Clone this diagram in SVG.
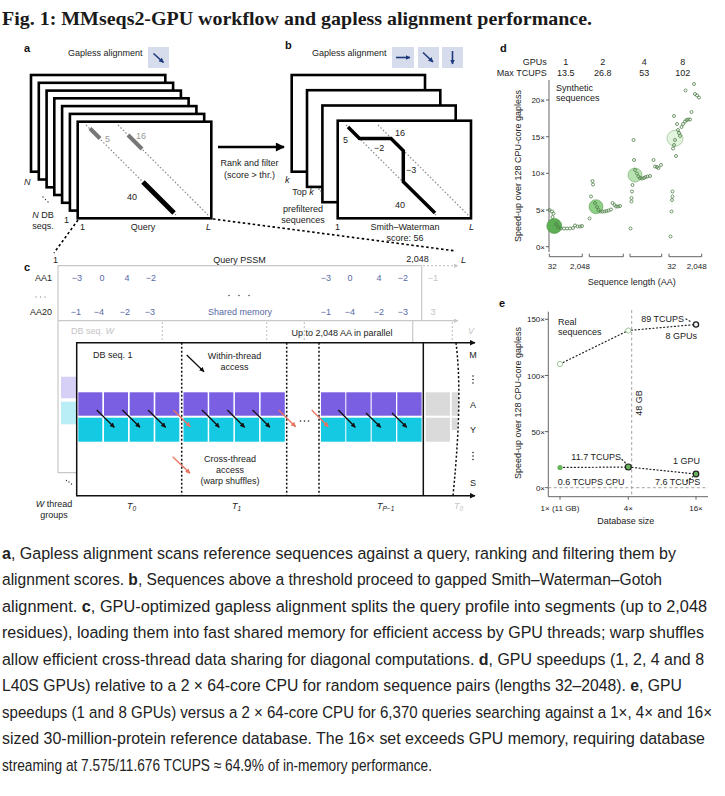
<svg xmlns="http://www.w3.org/2000/svg" width="725" height="796" viewBox="0 0 725 796">
<defs>
<style>
.t{font-family:"Liberation Sans",Arial,sans-serif;font-size:9px;fill:#222}
.s{font-size:8px}
.gr{fill:#999}
.lg{fill:#c4c4c4}
.num{fill:#5a68a6}
.it{font-style:italic}
.pl{font-family:"Liberation Sans",Arial,sans-serif;font-size:11px;font-weight:bold;fill:#111}
.mid{text-anchor:middle}
.end{text-anchor:end}
.cap{font-family:"Liberation Sans",Arial,sans-serif;font-size:17px;fill:#222}
.b{font-weight:bold}
.lay{fill:#fff;stroke:#000;stroke-width:2.6}
.dot{stroke:#8a8a8a;stroke-width:1.2;stroke-dasharray:1.5 2;fill:none}
.icon{fill:#d6dcec}
.na{stroke:#1e3a7c;stroke-width:1.6;fill:none}
.pc{fill:#7a5fe2}
.cc{fill:#16c9e2}
.ga{fill:#dadada}
.ba{stroke:#111;stroke-width:1.3;fill:none}
.ra{stroke:#e8735f;stroke-width:1.3;fill:none}
.vd{stroke:#111;stroke-width:1.5;stroke-dasharray:2 2;fill:none}
.gl{stroke:#c8c8c8;stroke-width:1.2;fill:none}
.gld{stroke:#c8c8c8;stroke-width:1.2;stroke-dasharray:2 2;fill:none}
.ax{stroke:#555;stroke-width:0.9;fill:none}
.sp{fill:none;stroke:#4f7f48;stroke-width:0.8}
.ed{stroke:#222;stroke-width:1.2;stroke-dasharray:1 2.6;stroke-linecap:round;fill:none}
</style>
<marker id="mb" viewBox="0 0 10 10" refX="9" refY="5" markerWidth="5" markerHeight="5" markerUnits="userSpaceOnUse" orient="auto"><path d="M0,0 L10,5 L0,10 z" fill="#111"/></marker>
<marker id="mr" viewBox="0 0 10 10" refX="9" refY="5" markerWidth="5" markerHeight="5" markerUnits="userSpaceOnUse" orient="auto"><path d="M0,0 L10,5 L0,10 z" fill="#e8735f"/></marker>
<marker id="mn" viewBox="0 0 10 10" refX="9" refY="5" markerWidth="5" markerHeight="5" markerUnits="userSpaceOnUse" orient="auto"><path d="M0,0 L10,5 L0,10 z" fill="#1e3a7c"/></marker>
<marker id="mk" viewBox="0 0 10 10" refX="9" refY="5" markerWidth="10" markerHeight="9" markerUnits="userSpaceOnUse" orient="auto"><path d="M0,0 L10,5 L0,10 z" fill="#000"/></marker>
<marker id="mg" viewBox="0 0 10 10" refX="9" refY="5" markerWidth="5" markerHeight="5" markerUnits="userSpaceOnUse" orient="auto"><path d="M0,0 L10,5 L0,10 z" fill="#c8c8c8"/></marker>
<marker id="mx" viewBox="0 0 10 10" refX="9" refY="5" markerWidth="6" markerHeight="6" markerUnits="userSpaceOnUse" orient="auto"><path d="M0,0 L10,5 L0,10 z" fill="#111"/></marker>
</defs>
<rect width="725" height="796" fill="#fff"/>

<text x="2" y="25" font-family="Liberation Serif,serif" font-weight="bold" font-size="19" fill="#1a1a1a" textLength="590" lengthAdjust="spacingAndGlyphs">Fig. 1: MMseqs2-GPU workflow and gapless alignment performance.</text>

<!-- Panel a -->
<g id="panel-a">
<text class="pl" x="24" y="52">a</text>
<text class="t" x="68" y="56">Gapless alignment</text>
<rect class="icon" x="148" y="47" width="21" height="21"/>
<line class="na" x1="153.5" y1="53.5" x2="163.5" y2="62.5" marker-end="url(#mn)"/>
<rect class="lay" x="31" y="75" width="134.3" height="96.7"/>
<rect class="lay" x="38.8" y="82.8" width="134.3" height="96.7"/>
<rect class="lay" x="46.6" y="90.6" width="134.3" height="96.7"/>
<rect class="lay" x="54.3" y="98.3" width="134.3" height="96.7"/>
<rect class="lay" x="62.1" y="106.1" width="134.3" height="96.7"/>
<rect class="lay" x="69.9" y="113.9" width="134.3" height="96.7"/>
<rect class="lay" x="77.7" y="121.7" width="133.6" height="96.6"/>
<line class="dot" x1="86" y1="125" x2="176" y2="215"/>
<line class="dot" x1="118" y1="125" x2="209" y2="216"/>
<line x1="90" y1="128.5" x2="100" y2="138.5" stroke="#777" stroke-width="4"/>
<line x1="128" y1="135" x2="142" y2="149" stroke="#777" stroke-width="4"/>
<line x1="143" y1="182" x2="174" y2="213" stroke="#000" stroke-width="5"/>
<text class="t gr" x="105" y="142">5</text>
<text class="t gr" x="136" y="139">16</text>
<text class="t" x="127" y="200" font-size="10">40</text>
<text class="t it" x="24" y="185">N</text>
<circle cx="43" cy="197" r="0.7" fill="#333"/><circle cx="45.5" cy="199.5" r="0.7" fill="#333"/><circle cx="48" cy="202" r="0.7" fill="#333"/>
<text class="t mid" x="43" y="218"><tspan class="it">N</tspan> DB</text>
<text class="t mid" x="43" y="229">seqs.</text>
<text class="t" x="64" y="223">1</text>
<text class="t" x="80" y="230">1</text>
<text class="t mid" x="143" y="230">Query</text>
<text class="t it" x="206" y="230">L</text>
</g>

<!-- Connectors -->
<g id="connectors">
<line x1="218" y1="147" x2="284" y2="147" stroke="#000" stroke-width="2.5" marker-end="url(#mk)"/>
<line x1="78" y1="220" x2="54" y2="253" stroke="#000" stroke-width="1.6" stroke-dasharray="2.5 2.5"/>
<line x1="213" y1="219" x2="456" y2="251" stroke="#000" stroke-width="1.6" stroke-dasharray="2.5 2.5"/>
</g>
<g id="rank-label">
<text class="t mid" x="249.5" y="166">Rank and filter</text>
<text class="t mid" x="249.5" y="178">(score &gt; thr.)</text>
</g>

<!-- Panel b -->
<g id="panel-b">
<text class="pl" x="285" y="49">b</text>
<text class="t" x="312" y="56">Gapless alignment</text>
<rect class="icon" x="392" y="47" width="22" height="21"/>
<rect class="icon" x="418" y="47" width="21" height="21"/>
<rect class="icon" x="442" y="47" width="21" height="21"/>
<line class="na" x1="396" y1="57.5" x2="410" y2="57.5" marker-end="url(#mn)"/>
<line class="na" x1="423" y1="52.5" x2="433" y2="62" marker-end="url(#mn)"/>
<line class="na" x1="452.5" y1="51" x2="452.5" y2="64" marker-end="url(#mn)"/>
<rect class="lay" x="291.7" y="75" width="133.3" height="96.7"/>
<rect class="lay" x="307" y="90.2" width="133.3" height="96.7"/>
<rect class="lay" x="322.4" y="105.5" width="133.3" height="96.7"/>
<rect class="lay" x="337.7" y="120.7" width="133.3" height="97.6"/>
<line class="dot" x1="346" y1="125" x2="436" y2="215"/>
<line class="dot" x1="378" y1="125" x2="469" y2="216"/>
<path d="M348,127 L359.5,138.5 L391,138.5 L403.3,150.8 L403.3,181.7 L435,213" fill="none" stroke="#000" stroke-width="3.5"/>
<text class="t" x="343" y="143">5</text>
<text class="t" x="395" y="136">16</text>
<text class="t" x="374" y="151">−2</text>
<text class="t" x="406" y="173">−3</text>
<text class="t" x="395" y="208">40</text>
<text class="t it" x="285" y="183">k</text>
<text class="t mid" x="303" y="195">Top <tspan class="it">k</tspan></text>
<circle cx="319" cy="189" r="0.7" fill="#333"/><circle cx="321" cy="191" r="0.7" fill="#333"/><circle cx="323" cy="193" r="0.7" fill="#333"/>
<text class="t mid" x="303" y="212">prefiltered</text>
<text class="t mid" x="303" y="223">sequences</text>
<text class="t" x="335" y="230">1</text>
<text class="t mid" x="405" y="230">Smith–Waterman</text>
<text class="t mid" x="405" y="241">score: 56</text>
<text class="t it" x="469" y="230">L</text>
</g>

<!-- Panel c -->
<g id="panel-c">
<text class="pl" x="24" y="271">c</text>
<text class="t" x="53" y="263">1</text>
<text class="t mid" x="239.5" y="263">Query PSSM</text>
<text class="t mid" x="417.5" y="262">2,048</text>
<text class="t it" x="461" y="263">L</text>
<polyline class="gl" points="421.7,265.7 58,265.7 58,472.7 77,472.7"/>
<line class="gl" x1="421.7" y1="265.7" x2="421.7" y2="320.7"/>
<line class="gld" x1="423" y1="265.7" x2="458" y2="265.7" marker-end="url(#mg)"/>
<line class="gl" x1="58" y1="320.7" x2="458" y2="320.7" marker-end="url(#mg)"/>
<text class="t end" x="52" y="281">AA1</text>
<circle cx="36" cy="297" r="0.7" fill="#999"/><circle cx="40.5" cy="297" r="0.7" fill="#999"/><circle cx="45" cy="297" r="0.7" fill="#999"/>
<text class="t end" x="52" y="315">AA20</text>
<g class="t num mid">
<text x="77" y="281">−3</text><text x="102" y="281">0</text><text x="127" y="281">4</text><text x="151" y="281">−2</text>
<text x="76" y="315">−1</text><text x="99" y="315">−4</text><text x="125" y="315">−2</text><text x="150" y="315">−3</text>
<text x="326" y="281">−3</text><text x="350" y="281">0</text><text x="379" y="281">4</text><text x="403" y="281">−2</text>
<text x="326" y="315">−1</text><text x="350" y="315">−4</text><text x="379" y="315">−2</text><text x="403" y="315">−3</text>
<text x="240" y="315">Shared memory</text>
</g>
<text class="t lg mid" x="433" y="281">−1</text>
<text class="t lg mid" x="433" y="315">3</text>
<circle cx="229" cy="295.5" r="0.8" fill="#555"/><circle cx="239" cy="295.5" r="0.8" fill="#555"/><circle cx="249" cy="295.5" r="0.8" fill="#555"/>
<text class="t lg" x="71" y="334">DB seq. <tspan class="it">W</tspan></text>
<line class="gld" x1="162.3" y1="322" x2="162.3" y2="341"/>
<line class="gld" x1="266.7" y1="322" x2="266.7" y2="341"/>
<line class="gld" x1="304.3" y1="322" x2="304.3" y2="341"/>
<line class="gl" x1="412.7" y1="321" x2="412.7" y2="342"/>
<line class="gld" x1="452.3" y1="322" x2="452.3" y2="341"/>
<text class="t mid" x="342" y="336">Up to 2,048 AA in parallel</text>
<text class="t lg it" x="468" y="334">V</text>
<rect x="61" y="376.7" width="16" height="21.6" fill="#d6cff6"/>
<rect x="61" y="401.7" width="16" height="22.6" fill="#b9eef6"/>
<line x1="76.7" y1="342.7" x2="475" y2="342.7" stroke="#111" stroke-width="1.5" marker-end="url(#mx)"/>
<line x1="76.7" y1="495.7" x2="475" y2="495.7" stroke="#111" stroke-width="1.5" marker-end="url(#mx)"/>
<line x1="76.7" y1="342" x2="76.7" y2="496.4" stroke="#111" stroke-width="1.5"/>
<line x1="423.3" y1="342.7" x2="423.3" y2="495.7" stroke="#111" stroke-width="1.5"/>
<text class="t" x="93" y="358">DB seq. 1</text>
<g id="cells">
<rect class="pc" x="78.3" y="392.3" width="24" height="23.4"/><rect class="pc" x="104" y="392.3" width="24" height="23.4"/><rect class="pc" x="129.7" y="392.3" width="24" height="23.4"/><rect class="pc" x="155.3" y="392.3" width="24" height="23.4"/>
<rect class="cc" x="78.3" y="417.7" width="24" height="24"/><rect class="cc" x="104" y="417.7" width="24" height="24"/><rect class="cc" x="129.7" y="417.7" width="24" height="24"/><rect class="cc" x="155.3" y="417.7" width="24" height="24"/>
<rect class="pc" x="183.5" y="392.3" width="24.2" height="23.4"/><rect class="pc" x="209.2" y="392.3" width="24.2" height="23.4"/><rect class="pc" x="234.9" y="392.3" width="24.2" height="23.4"/><rect class="pc" x="260.6" y="392.3" width="24.2" height="23.4"/>
<rect class="cc" x="183.5" y="417.7" width="24.2" height="24"/><rect class="cc" x="209.2" y="417.7" width="24.2" height="24"/><rect class="cc" x="234.9" y="417.7" width="24.2" height="24"/><rect class="cc" x="260.6" y="417.7" width="24.2" height="24"/>
<rect class="pc" x="321" y="392.3" width="24.3" height="23.4"/><rect class="pc" x="346.3" y="392.3" width="24.3" height="23.4"/><rect class="pc" x="371.7" y="392.3" width="24.3" height="23.4"/><rect class="pc" x="397.3" y="392.3" width="24.3" height="23.4"/>
<rect class="cc" x="321" y="417.7" width="24.3" height="24"/><rect class="cc" x="346.3" y="417.7" width="24.3" height="24"/><rect class="cc" x="371.7" y="417.7" width="24.3" height="24"/><rect class="cc" x="397.3" y="417.7" width="24.3" height="24"/>
<rect class="ga" x="425.7" y="392.3" width="24.3" height="23.4"/><rect class="ga" x="425.7" y="417.7" width="24.3" height="24"/>
<path class="ga" d="M451.7,392.3 L458.6,392.3 L458.2,415.7 L451.7,415.7 z"/>
<path class="ga" d="M451.7,417.7 L457.6,417.7 L456.9,430 L451.7,430 z"/>
</g>
<path d="M456,342.7 C460,375 460.5,420 453,495.7" fill="none" stroke="#111" stroke-width="1.5" stroke-dasharray="2.2 2"/>
<line class="vd" x1="181.7" y1="342.7" x2="181.7" y2="495.7"/>
<line class="vd" x1="286.7" y1="342.7" x2="286.7" y2="495.7"/>
<line class="vd" x1="319" y1="342.7" x2="319" y2="495.7"/>
<g id="thread-arrows">
<line class="ba" x1="96.7" y1="410" x2="114.3" y2="427.3" marker-end="url(#mb)"/>
<line class="ba" x1="122.4" y1="410" x2="140" y2="427.3" marker-end="url(#mb)"/>
<line class="ba" x1="148" y1="410" x2="165.6" y2="427.3" marker-end="url(#mb)"/>
<line class="ra" x1="173.3" y1="410" x2="190.3" y2="426.7" marker-end="url(#mr)"/>
<line class="ba" x1="202" y1="410" x2="219.3" y2="427.3" marker-end="url(#mb)"/>
<line class="ba" x1="227.3" y1="410" x2="244.6" y2="427.3" marker-end="url(#mb)"/>
<line class="ba" x1="252.6" y1="410" x2="269.9" y2="427.3" marker-end="url(#mb)"/>
<line class="ra" x1="278.6" y1="410" x2="295.6" y2="426.7" marker-end="url(#mr)"/>
<line class="ra" x1="311.7" y1="410" x2="328.3" y2="426.7" marker-end="url(#mr)"/>
<line class="ba" x1="338.3" y1="410" x2="355.3" y2="427.3" marker-end="url(#mb)"/>
<line class="ba" x1="366" y1="413" x2="380.7" y2="427.3" marker-end="url(#mb)"/>
<line class="ba" x1="392" y1="413" x2="406.7" y2="427.3" marker-end="url(#mb)"/>
</g>
<circle cx="300.5" cy="421" r="0.8" fill="#222"/><circle cx="304.5" cy="421" r="0.8" fill="#222"/><circle cx="308.5" cy="421" r="0.8" fill="#222"/>
<line class="ba" x1="186.7" y1="355" x2="204" y2="371.7" marker-end="url(#mb)"/>
<text class="t mid" x="234.5" y="359">Within-thread</text>
<text class="t mid" x="234.5" y="370">access</text>
<line class="ra" x1="172.7" y1="456.7" x2="190" y2="473.3" marker-end="url(#mr)"/>
<text class="t mid" x="230" y="462">Cross-thread</text>
<text class="t mid" x="230" y="473">access</text>
<text class="t mid" x="230" y="484">(warp shuffles)</text>
<text class="t mid" x="473" y="358">M</text>
<circle cx="473" cy="376" r="0.8" fill="#222"/><circle cx="473" cy="379.5" r="0.8" fill="#222"/><circle cx="473" cy="383" r="0.8" fill="#222"/>
<text class="t mid" x="473" y="408">A</text>
<text class="t mid" x="473" y="433">Y</text>
<circle cx="473" cy="452.5" r="0.8" fill="#222"/><circle cx="473" cy="456" r="0.8" fill="#222"/><circle cx="473" cy="459.5" r="0.8" fill="#222"/>
<text class="t mid" x="473" y="486">S</text>
<circle cx="66.5" cy="480.5" r="0.7" fill="#333"/><circle cx="69" cy="482" r="0.7" fill="#333"/><circle cx="71.5" cy="484" r="0.7" fill="#333"/>
<text class="t mid" x="54" y="507"><tspan class="it">W</tspan> thread</text>
<text class="t mid" x="54" y="518">groups</text>
<text class="t it" x="127" y="509">T<tspan font-size="6.5" dy="2">0</tspan></text>
<text class="t it" x="232" y="509">T<tspan font-size="6.5" dy="2">1</tspan></text>
<text class="t it" x="377" y="509">T<tspan font-size="6.5" dy="2">P−1</tspan></text>
<text class="t it lg" x="454" y="509">T<tspan font-size="6.5" dy="2">0</tspan></text>
</g>

<!-- Panel d -->
<g id="panel-d">
<text class="pl" x="500" y="52">d</text>
<text class="t end" x="546.7" y="65">GPUs</text>
<text class="t end" x="546.7" y="76">Max TCUPS</text>
<g class="t mid">
<text x="565.7" y="65">1</text><text x="602.7" y="65">2</text><text x="644.3" y="65">4</text><text x="682.7" y="65">8</text>
<text x="565.7" y="76">13.5</text><text x="602.7" y="76">26.8</text><text x="644.3" y="76">53</text><text x="682.7" y="76">102</text>
</g>
<line class="ax" x1="549" y1="80" x2="549" y2="252"/>
<g class="ax">
<line x1="546" y1="100" x2="549" y2="100"/><line x1="546" y1="136.7" x2="549" y2="136.7"/><line x1="546" y1="173.3" x2="549" y2="173.3"/><line x1="546" y1="210" x2="549" y2="210"/><line x1="546" y1="246.7" x2="549" y2="246.7"/>
<polyline points="549.3,253.7 549.3,256.7 582.3,256.7 582.3,253.7"/>
<polyline points="589.3,253.7 589.3,256.7 623.3,256.7 623.3,253.7"/>
<polyline points="630,253.7 630,256.7 661.7,256.7 661.7,253.7"/>
<polyline points="669,253.7 669,256.7 701.7,256.7 701.7,253.7"/>
</g>
<g class="t s end">
<text x="545" y="103">20×</text><text x="545" y="139.7">15×</text><text x="545" y="176.3">10×</text><text x="545" y="213">5×</text><text x="545" y="249.7">0×</text>
</g>
<g class="t s mid">
<text x="552.3" y="269">32</text><text x="580" y="269">2,048</text><text x="671.7" y="269">32</text><text x="696.7" y="269">2,048</text>
</g>
<text class="t mid" x="631.7" y="285">Sequence length (AA)</text>
<text class="t mid" transform="translate(521,166) rotate(-90)">Speed-up over 128 CPU-core gapless</text>
<text class="t" x="556" y="90.5">Synthetic</text>
<text class="t" x="556" y="100.5">sequences</text>
<circle cx="554.3" cy="226" r="7.5" fill="#5daf55" stroke="#4a8f43" stroke-width="0.6"/>
<circle cx="596" cy="206.7" r="7" fill="#8fd087" stroke="#5f9f57" stroke-width="0.6"/>
<circle cx="635" cy="175" r="7" fill="#b9e2b2" stroke="#6fa868" stroke-width="0.6"/>
<circle cx="675" cy="138.3" r="8" fill="#e2f3de" stroke="#8ab884" stroke-width="0.6"/>
<g class="sp">
<circle cx="549.5" cy="210" r="1.5"/><circle cx="552" cy="211.5" r="1.5"/><circle cx="553.5" cy="213.5" r="1.5"/><circle cx="552.5" cy="217" r="1.5"/><circle cx="556" cy="224" r="1.5"/><circle cx="558" cy="227" r="1.5"/><circle cx="561" cy="228.5" r="1.5"/><circle cx="564" cy="228.5" r="1.5"/><circle cx="567" cy="228.5" r="1.5"/><circle cx="570" cy="228.5" r="1.5"/><circle cx="573" cy="228" r="1.5"/><circle cx="575" cy="225.5" r="1.5"/><circle cx="577.5" cy="226.5" r="1.5"/><circle cx="580" cy="226.5" r="1.5"/><circle cx="582" cy="226" r="1.5"/>
<circle cx="589.5" cy="218.5" r="1.5"/><circle cx="591" cy="196.5" r="1.5"/><circle cx="592.5" cy="181" r="1.5"/><circle cx="593" cy="184.5" r="1.5"/><circle cx="595" cy="203" r="1.5"/><circle cx="597" cy="207" r="1.5"/><circle cx="598.5" cy="210" r="1.5"/><circle cx="600.5" cy="211.5" r="1.5"/><circle cx="602.5" cy="211.5" r="1.5"/><circle cx="604.5" cy="211.5" r="1.5"/><circle cx="606.5" cy="211" r="1.5"/><circle cx="608.5" cy="210.5" r="1.5"/><circle cx="611" cy="209.5" r="1.5"/><circle cx="612.5" cy="203" r="1.5"/><circle cx="614.5" cy="205" r="1.5"/><circle cx="616" cy="206.5" r="1.5"/><circle cx="618" cy="206.5" r="1.5"/><circle cx="620" cy="206" r="1.5"/>
<circle cx="630.5" cy="228.5" r="1.5"/><circle cx="631.5" cy="201.5" r="1.5"/><circle cx="631.5" cy="198" r="1.5"/><circle cx="632" cy="191.5" r="1.5"/><circle cx="632.5" cy="185" r="1.5"/><circle cx="633.5" cy="140" r="1.5"/><circle cx="634" cy="160" r="1.5"/><circle cx="635" cy="170" r="1.5"/><circle cx="637" cy="173.5" r="1.5"/><circle cx="638.5" cy="176.5" r="1.5"/><circle cx="640" cy="178" r="1.5"/><circle cx="642" cy="178.5" r="1.5"/><circle cx="644" cy="178" r="1.5"/><circle cx="645.5" cy="177" r="1.5"/><circle cx="647.5" cy="176.5" r="1.5"/><circle cx="650" cy="176" r="1.5"/><circle cx="653.5" cy="160" r="1.5"/><circle cx="655" cy="166.5" r="1.5"/><circle cx="657" cy="167" r="1.5"/><circle cx="658.5" cy="168" r="1.5"/><circle cx="661" cy="165" r="1.5"/>
<circle cx="670.5" cy="236.5" r="1.5"/><circle cx="671.5" cy="211.5" r="1.5"/><circle cx="672" cy="200" r="1.5"/><circle cx="672.5" cy="196.5" r="1.5"/><circle cx="672.5" cy="191.5" r="1.5"/><circle cx="673" cy="148.5" r="1.5"/><circle cx="674" cy="145" r="1.5"/><circle cx="675" cy="140" r="1.5"/><circle cx="676" cy="156" r="1.5"/><circle cx="674" cy="116" r="1.5"/><circle cx="677" cy="124" r="1.5"/><circle cx="678" cy="130" r="1.5"/><circle cx="679" cy="133" r="1.5"/><circle cx="680" cy="136" r="1.5"/><circle cx="681.5" cy="127" r="1.5"/><circle cx="683" cy="124" r="1.5"/><circle cx="685" cy="121.5" r="1.5"/><circle cx="686.5" cy="120" r="1.5"/><circle cx="688" cy="119.5" r="1.5"/><circle cx="690" cy="119.5" r="1.5"/><circle cx="691.5" cy="112" r="1.5"/><circle cx="685.5" cy="90.5" r="1.5"/><circle cx="694" cy="84" r="1.5"/><circle cx="695" cy="94" r="1.5"/><circle cx="697" cy="95.5" r="1.5"/><circle cx="699" cy="97.5" r="1.5"/>
</g>
</g>

<!-- Panel e -->
<g id="panel-e">
<text class="pl" x="499" y="307">e</text>
<line class="ax" x1="548.3" y1="311.7" x2="548.3" y2="496.7"/>
<line class="ax" x1="548.3" y1="496.7" x2="708" y2="496.7"/>
<g class="ax">
<line x1="545" y1="319.3" x2="548.3" y2="319.3"/><line x1="545" y1="375.5" x2="548.3" y2="375.5"/><line x1="545" y1="431.6" x2="548.3" y2="431.6"/><line x1="545" y1="487.7" x2="548.3" y2="487.7"/>
<line x1="560" y1="496.7" x2="560" y2="499.7"/><line x1="628.3" y1="496.7" x2="628.3" y2="499.7"/><line x1="696" y1="496.7" x2="696" y2="499.7"/>
</g>
<line x1="548.3" y1="487.7" x2="708" y2="487.7" stroke="#999" stroke-width="0.9" stroke-dasharray="3 2.5"/>
<line x1="631.7" y1="310" x2="631.7" y2="496.7" stroke="#999" stroke-width="0.9" stroke-dasharray="3 2.5"/>
<g class="t s end">
<text x="545" y="322.3">150×</text><text x="545" y="378.5">100×</text><text x="545" y="434.6">50×</text><text x="545" y="490.7">0×</text>
</g>
<g class="t s mid">
<text x="560" y="511">1× (11 GB)</text><text x="628.3" y="511">4×</text><text x="696" y="511">16×</text>
</g>
<text class="t mid" x="625.7" y="524">Database size</text>
<text class="t mid" transform="translate(521,403) rotate(-90)">Speed-up over 128 CPU-core gapless</text>
<text class="t mid" transform="translate(642,403) rotate(-90)">48 GB</text>
<text class="t" x="558" y="325">Real</text>
<text class="t" x="558" y="335">sequences</text>
<polyline class="ed" points="560,364 628.3,330.5 696,324.5"/>
<polyline class="ed" points="560,467.5 628.3,467 696,474"/>
<circle cx="560" cy="364" r="2.6" fill="#fff" stroke="#9cc794" stroke-width="1"/>
<circle cx="628.3" cy="330.5" r="2.6" fill="#fff" stroke="#9cc794" stroke-width="1"/>
<circle cx="696" cy="324.5" r="2.6" fill="#f0f8ed" stroke="#222" stroke-width="1.3"/>
<circle cx="560" cy="467.5" r="2.6" fill="#66b45c"/>
<circle cx="628.3" cy="467" r="3" fill="#66b45c" stroke="#222" stroke-width="1.2"/>
<circle cx="696" cy="474" r="2.8" fill="#66b45c" stroke="#222" stroke-width="1.2"/>
<text class="t end" x="684" y="322">89 TCUPS</text>
<line class="ed" x1="686" y1="319" x2="692" y2="322.5"/>
<text class="t end" x="697" y="339">8 GPUs</text>
<text class="t end" x="621" y="460">11.7 TCUPS</text>
<line class="ed" x1="622" y1="459.5" x2="626" y2="463.5"/>
<text class="t end" x="700" y="464">1 GPU</text>
<text class="t" x="557.7" y="485">0.6 TCUPS CPU</text>
<text class="t" x="655" y="485">7.6 TCUPS</text>
<line class="ed" x1="686.5" y1="481" x2="693" y2="476.5"/>
</g>

<!-- Caption (condensed by horizontal scale) -->
<g id="caption" class="cap" transform="translate(2,0) scale(0.86,1)">
<text x="0" y="559" textLength="783.7" lengthAdjust="spacingAndGlyphs"><tspan class="b">a</tspan>, Gapless alignment scans reference sequences against a query, ranking and filtering them by</text>
<text x="0" y="585.5" textLength="767.4" lengthAdjust="spacingAndGlyphs">alignment scores. <tspan class="b">b</tspan>, Sequences above a threshold proceed to gapped Smith–Waterman–Gotoh</text>
<text x="0" y="612" textLength="819.8" lengthAdjust="spacingAndGlyphs">alignment. <tspan class="b">c</tspan>, GPU-optimized gapless alignment splits the query profile into segments (up to 2,048</text>
<text x="0" y="638.5" textLength="816.3" lengthAdjust="spacingAndGlyphs">residues), loading them into fast shared memory for efficient access by GPU threads; warp shuffles</text>
<text x="0" y="665" textLength="816.3" lengthAdjust="spacingAndGlyphs">allow efficient cross-thread data sharing for diagonal computations. <tspan class="b">d</tspan>, GPU speedups (1, 2, 4 and 8</text>
<text x="0" y="691.5" textLength="790.7" lengthAdjust="spacingAndGlyphs">L40S GPUs) relative to a 2 × 64-core CPU for random sequence pairs (lengths 32–2048). <tspan class="b">e</tspan>, GPU</text>
<text x="0" y="718" textLength="825.6" lengthAdjust="spacingAndGlyphs">speedups (1 and 8 GPUs) versus a 2 × 64-core CPU for 6,370 queries searching against a 1×, 4× and 16×</text>
<text x="0" y="744.5" textLength="817.4" lengthAdjust="spacingAndGlyphs">sized 30-million-protein reference database. The 16× set exceeds GPU memory, requiring database</text>
<text x="0" y="771" textLength="500" lengthAdjust="spacingAndGlyphs">streaming at 7.575/11.676 TCUPS ≈ 64.9% of in-memory performance.</text>
</g>
</svg>
